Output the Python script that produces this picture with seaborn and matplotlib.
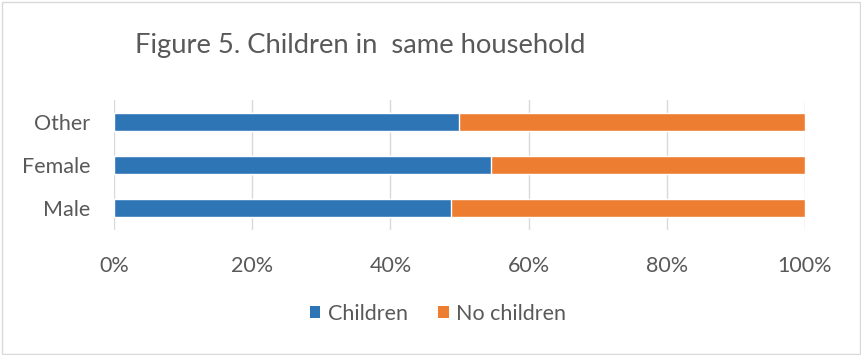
import matplotlib
matplotlib.use("Agg")
import matplotlib.pyplot as plt
import seaborn as sns
import pandas as pd
from matplotlib.patches import Rectangle, Patch

categories = ["Other", "Female", "Male"]
children = [49.9, 54.6, 48.7]
no_children = [50.1, 45.4, 51.3]
tick_values = [0, 20, 40, 60, 80, 100]
tick_labels = ["0%", "20%", "40%", "60%", "80%", "100%"]
title = "Figure 5. Children in  same household"

BLUE = "#2E75B6"
ORANGE = "#ED7D31"
TEXT = "#595959"
GRID = "#D9D9D9"

sns.set_theme(style="white")
plt.rcParams["font.family"] = ["Lato", "DejaVu Sans"]

df = pd.DataFrame({"cat": categories, "children": children, "no_children": no_children})
df["total"] = df["children"] + df["no_children"]

fig = plt.figure(figsize=(8.61, 3.55), dpi=100)
ax = fig.add_axes([114 / 861, 1 - 230 / 355, (805 - 114) / 861, 130 / 355])

sns.barplot(data=df, x="total", y="cat", orient="h", color=ORANGE, width=0.42,
            saturation=1, ax=ax, zorder=3)
sns.barplot(data=df, x="children", y="cat", orient="h", color=BLUE, width=0.42,
            saturation=1, ax=ax, zorder=3)

ax.set_xlim(0, 100)
ax.set_ylim(2.5, -0.5)
ax.set_xticks(tick_values)
ax.set_xticklabels(tick_labels)
ax.set_xlabel("")
ax.set_ylabel("")
for s in ax.spines.values():
    s.set_visible(False)
ax.grid(axis="x", color=GRID, linewidth=1, zorder=0)
ax.grid(axis="y", visible=False)
ax.tick_params(axis="x", colors=TEXT, labelsize=15.5, length=0, pad=19)
ax.tick_params(axis="y", colors=TEXT, labelsize=15.5, length=0, pad=17)

fig.text(360 / 861, 1 - 46 / 355, title, ha="center", va="center",
         fontsize=19.7, color=TEXT)

handles = [Patch(facecolor=BLUE, edgecolor="none"), Patch(facecolor=ORANGE, edgecolor="none")]
fig.legend(handles, ["Children", "No children"], loc="center",
           bbox_to_anchor=(438 / 861, 1 - 314 / 355), ncol=2, frameon=False,
           fontsize=15.5, labelcolor=TEXT, handlelength=0.5, handleheight=0.5,
           handletextpad=0.35, columnspacing=1.4)

fig.patches.append(Rectangle((1.5 / 861, 1.5 / 355), 1 - 3 / 861, 1 - 3 / 355,
                             transform=fig.transFigure, fill=False,
                             edgecolor="#D9D9D9", linewidth=1))

fig.savefig("out.png", dpi=100)
